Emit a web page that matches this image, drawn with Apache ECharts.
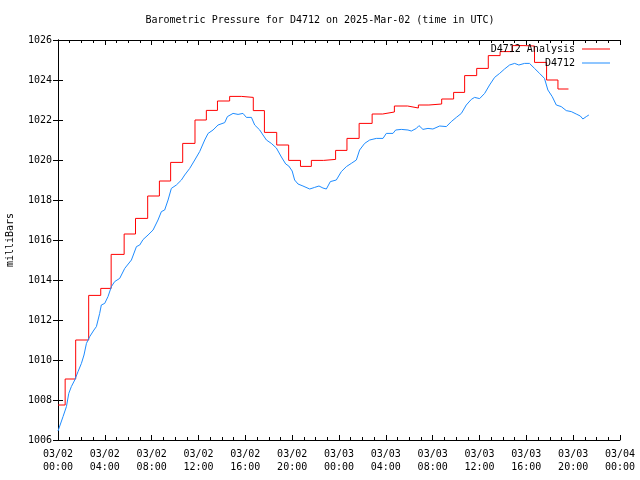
<!DOCTYPE html>
<html>
<head>
<meta charset="utf-8">
<script src="https://cdn.jsdelivr.net/npm/echarts@6/dist/echarts.min.js"></script>
<style>html,body{margin:0;padding:0;background:#fff}#c{width:640px;height:480px}</style>
</head>
<body>
<div id="c"></div>
<script>
// Hours since 2025-03-02 00:00 UTC
const analysisHours = [0, 0.61, 1.51, 2.62, 3.65, 4.54, 5.65, 6.62, 7.66, 8.66, 9.62, 10.65, 11.70, 12.67, 13.62, 14.66, 15.66, 16.68, 17.63, 18.68, 19.70, 20.71, 21.64, 22.69, 23.71, 24.68, 25.72, 26.83, 27.73, 28.73, 29.86, 30.78, 31.68, 32.77, 33.79, 34.73, 35.76, 36.75, 37.76, 38.81, 39.8, 40.7, 41.73, 42.7, 43.6];
const analysisValues = [1007.75, 1009.05, 1011.0, 1013.23, 1013.58, 1015.28, 1016.3, 1017.08, 1018.2, 1018.95, 1019.88, 1020.83, 1022.0, 1022.48, 1022.95, 1023.18, 1023.13, 1022.47, 1021.38, 1020.75, 1019.98, 1019.68, 1019.98, 1020.03, 1020.48, 1021.08, 1021.83, 1022.3, 1022.4, 1022.7, 1022.6, 1022.75, 1022.8, 1023.05, 1023.38, 1024.22, 1024.58, 1025.22, 1025.42, 1025.72, 1025.7, 1024.88, 1024.0, 1023.55, 1023.55];

const obsHours = [0.00, 0.43, 0.72, 0.92, 1.14, 1.43, 1.71, 2.00, 2.22, 2.43, 2.71, 3.07, 3.28, 3.56, 3.70, 3.99, 4.27, 4.56, 4.84, 5.27, 5.70, 6.27, 6.70, 6.98, 7.26, 7.69, 8.12, 8.54, 8.83, 9.11, 9.40, 9.68, 10.11, 10.54, 10.82, 11.25, 11.68, 12.10, 12.53, 12.82, 13.24, 13.67, 14.24, 14.47, 14.95, 15.38, 15.80, 16.09, 16.52, 16.80, 17.23, 17.51, 17.80, 18.22, 18.65, 19.08, 19.45, 19.71, 20.00, 20.21, 20.50, 20.92, 21.50, 21.92, 22.29, 22.63, 22.92, 23.26, 23.77, 24.20, 24.63, 25.05, 25.48, 25.76, 26.19, 26.62, 27.19, 27.76, 28.04, 28.61, 28.84, 29.32, 29.89, 30.18, 30.61, 30.83, 31.17, 31.60, 32.02, 32.60, 33.17, 33.59, 34.02, 34.45, 34.87, 35.30, 35.58, 36.01, 36.44, 36.86, 37.29, 37.72, 38.14, 38.57, 39.00, 39.36, 39.85, 40.27, 40.70, 41.13, 41.55, 41.84, 42.21, 42.56, 42.98, 43.41, 43.84, 44.26, 44.61, 44.83, 45.12, 45.34];
const obsValues = [1006.45, 1007.17, 1007.67, 1008.33, 1008.67, 1009.0, 1009.42, 1009.83, 1010.25, 1010.83, 1011.17, 1011.5, 1011.67, 1012.33, 1012.75, 1012.83, 1013.17, 1013.67, 1013.92, 1014.08, 1014.58, 1015.0, 1015.67, 1015.75, 1016.02, 1016.25, 1016.5, 1017.0, 1017.42, 1017.5, 1018.0, 1018.58, 1018.75, 1019.0, 1019.25, 1019.58, 1020.0, 1020.42, 1021.0, 1021.33, 1021.5, 1021.75, 1021.87, 1022.17, 1022.33, 1022.28, 1022.33, 1022.13, 1022.13, 1021.75, 1021.5, 1021.25, 1021.0, 1020.83, 1020.6, 1020.15, 1019.8, 1019.7, 1019.45, 1019.0, 1018.8, 1018.7, 1018.55, 1018.63, 1018.7, 1018.6, 1018.55, 1018.92, 1019.0, 1019.42, 1019.67, 1019.83, 1020.0, 1020.5, 1020.83, 1021.0, 1021.08, 1021.08, 1021.33, 1021.33, 1021.5, 1021.53, 1021.5, 1021.45, 1021.58, 1021.72, 1021.53, 1021.58, 1021.55, 1021.7, 1021.67, 1021.92, 1022.13, 1022.33, 1022.75, 1023.03, 1023.13, 1023.07, 1023.33, 1023.75, 1024.13, 1024.33, 1024.55, 1024.75, 1024.83, 1024.75, 1024.83, 1024.83, 1024.58, 1024.33, 1024.08, 1023.5, 1023.17, 1022.75, 1022.67, 1022.47, 1022.42, 1022.3, 1022.2, 1022.05, 1022.17, 1022.25];

const xMin = 0, xMax = 48, xStep = 4;
const yMin = 1006, yMax = 1026, yStep = 2;
const titleText = 'Barometric Pressure for D4712 on 2025-Mar-02 (time in UTC)';
const yName = 'milliBars';
const seriesNames = ['D4712 Analysis', 'D4712'];

const FONT = 'DejaVu Sans Mono';
function xLabel(v) {
  const d = 2 + Math.floor(v / 24);
  const h = v % 24;
  return '03/' + String(d).padStart(2, '0') + '\n' + String(h).padStart(2, '0') + ':00';
}
const chart = echarts.init(document.getElementById('c'), null, {renderer: 'canvas'});
const txt = {color: '#000', fontFamily: FONT, fontSize: 10};
chart.setOption({
  animation: false,
  backgroundColor: '#fff',
  title: {text: titleText, left: 'center', top: 10, textStyle: {color: '#000', fontFamily: FONT, fontSize: 10, fontWeight: 'normal'}},
  grid: {left: 58, right: 20, top: 40, bottom: 40, containLabel: false, outerBoundsMode: 'none'},
  legend: {
    orient: 'vertical', right: 25, top: 40, align: 'right', itemWidth: 28, itemHeight: 12, itemGap: 0, padding: [2, 5, 2, 5],
    textStyle: {color: '#000', fontFamily: FONT, fontSize: 10, lineHeight: 14, height: 14, padding: [0, 2, 0, 0]}, icon: 'path://M0,6L28,6L28,7L0,7Z',
    data: seriesNames
  },
  xAxis: [
    {type: 'value', min: xMin, max: xMax, interval: xStep, position: 'bottom',
      axisLine: {lineStyle: {color: '#000', width: 1}},
      axisTick: {inside: true, length: 5, lineStyle: {color: '#000'}},
      minorTick: {show: true, splitNumber: 4, length: 3, lineStyle: {color: '#000'}},
      axisLabel: Object.assign({formatter: xLabel, margin: 8, lineHeight: 13}, txt),
      splitLine: {show: false}},
    {type: 'value', min: xMin, max: xMax, interval: xStep, position: 'top',
      axisLine: {lineStyle: {color: '#000', width: 1}},
      axisTick: {inside: true, length: 5, lineStyle: {color: '#000'}},
      minorTick: {show: true, splitNumber: 4, length: 3, lineStyle: {color: '#000'}},
      axisLabel: {show: false}, splitLine: {show: false}}
  ],
  yAxis: [
    {type: 'value', min: yMin, max: yMax, interval: yStep, position: 'left',
      name: yName, nameLocation: 'middle', nameGap: 43, nameRotate: 90,
      nameTextStyle: txt,
      axisLine: {show: true, lineStyle: {color: '#000', width: 1}},
      axisTick: {show: true, inside: true, length: 5, lineStyle: {color: '#000'}},
      axisLabel: Object.assign({margin: 6, formatter: v => String(v)}, txt),
      splitLine: {show: false}},
    {type: 'value', min: yMin, max: yMax, interval: yStep, position: 'right',
      axisLine: {show: true, lineStyle: {color: '#000', width: 1}},
      axisTick: {show: true, inside: true, length: 5, lineStyle: {color: '#000'}},
      axisLabel: {show: false}, splitLine: {show: false}}
  ],
  series: [
    {name: seriesNames[0], type: 'line', step: 'end', symbol: 'none', xAxisIndex: 0, yAxisIndex: 0,
      color: '#ff0000', lineStyle: {color: '#ff0000', width: 1},
      data: analysisHours.map((h, i) => [h, analysisValues[i]])},
    {name: seriesNames[1], type: 'line', symbol: 'none', xAxisIndex: 0, yAxisIndex: 0,
      color: '#1e8cff', lineStyle: {color: '#1e8cff', width: 1},
      data: obsHours.map((h, i) => [h, obsValues[i]])}
  ]
});
</script>
</body>
</html>
